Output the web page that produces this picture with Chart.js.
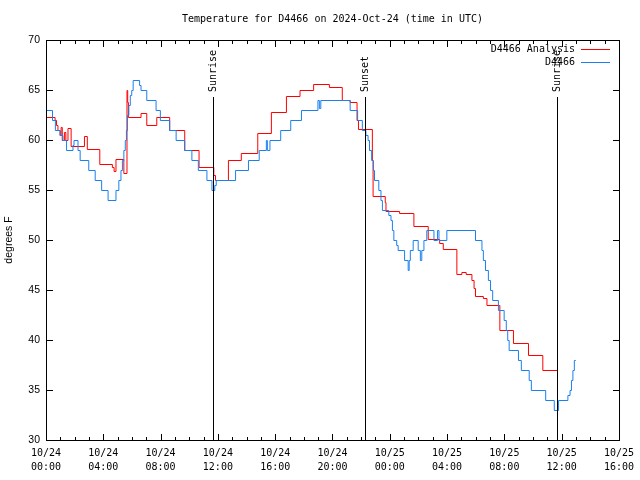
<!DOCTYPE html>
<html>
<head>
<meta charset="utf-8">
<script src="https://cdn.jsdelivr.net/npm/chart.js@4/dist/chart.umd.min.js"></script>
<style>
html,body{margin:0;padding:0;background:#fff;}
canvas{display:block;}
</style>
</head>
<body>
<canvas id="c" width="640" height="480"></canvas>
<script>
// ---- Data (hours since 2024-10-24 00:00 UTC, temperature in °F) ----
const chartTitle = "Temperature for D4466 on 2024-Oct-24 (time in UTC)";
const seriesNames = ["D4466 Analysis", "D4466"];
const xTickHours = [0, 4, 8, 12, 16, 20, 24, 28, 32, 36, 40];
const yTickValues = [30, 35, 40, 45, 50, 55, 60, 65, 70];
const sunEventNames = ["Sunrise", "Sunset", "Sunrise"];
const sunEventHours = [11.64, 22.3, 35.68];

const analysisHours = [0,0.6,0.7,0.8,0.95,1.02,1.1,1.25,1.35,1.5,1.72,2.65,2.85,3.72,4.6,4.72,4.85,5.4,5.62,5.67,5.72,6.6,7.0,7.7,8.6,9.65,10.65,11.68,11.8,12.7,13.6,14.75,15.7,16.75,17.7,18.65,19.75,20.65,21.2,21.68,21.78,22.75,22.8,23.65,23.7,24.65,25.65,26.65,27.45,27.7,28.65,29.0,29.3,29.7,29.85,29.95,30.5,30.75,31.65,32.6,33.65,34.65,35.68];
const analysisTemps = [62.3,62,61.5,61,60.5,61.3,60,60.8,60,61.2,59.4,60.4,59.1,57.6,57.3,56.9,58.1,56.7,65,63.8,62.3,62.7,61.5,62.3,61,59,57.3,56.5,56,58,58.7,60.7,62.8,64.4,65,65.6,65.3,64,63.8,62,61.1,58,54.4,53.8,52.9,52.7,51.4,50.1,49.7,49.1,46.6,46.8,46.6,46,45.2,44.4,44.2,43.5,41,39.7,38.5,37,37];

const obsHours = [0,0.42,0.62,0.95,1.15,1.4,1.85,1.92,2.2,2.35,2.95,3.4,3.85,4.3,4.85,5.05,5.2,5.3,5.4,5.5,5.58,5.65,5.75,5.85,5.95,6.05,6.5,6.6,7.0,7.65,7.95,8.6,9.05,9.65,10.15,10.6,11.2,11.55,11.75,11.85,13.2,14.1,14.85,15.35,15.42,15.6,16.35,17.05,17.8,18.95,19.05,19.15,21.2,21.72,22.05,22.3,22.45,22.55,22.7,22.82,22.9,23.2,23.35,23.45,23.9,24.05,24.15,24.25,24.45,24.55,25.0,25.25,25.32,25.4,25.6,25.95,26.1,26.2,26.35,26.55,27.05,27.3,27.4,27.95,29.95,30.4,30.5,30.65,30.85,31.0,31.15,31.55,31.95,32.1,32.2,32.3,32.95,33.15,33.7,33.85,34.85,35.45,35.75,36.4,36.55,36.65,36.75,36.85,36.95];
const obsTemps = [63,62,61,60.5,60,59,59.5,60,59,58,57,56,55,54,55,56,57,58,59,60,61,62.5,63.5,64.5,65,66,65.5,65,64,63,62,61,60,59,58,57,56,55,55.5,56,57,58,59,60,59,60,61,62,63,64,63.2,64,63,62,61,60.5,60,59,58,57,56,55,54,53,52.5,52,51,50,49.5,49,48,47,48,49,50,49,48,49,50,51,50,51,50,51,50,49,48,47,46,45,44,43,42,41,40,39,38,37,36,35,34,33,34,34.5,35,36,37,38,38];

const toPoints = (hs, ts) => hs.map((h, i) => ({x: h, y: ts[i]}));

const MONO = "'DejaVu Sans Mono', 'Liberation Mono', monospace";
const SANS = "'Liberation Sans', Arial, sans-serif";
const RED = '#ff0000';
const BLUE = '#1a80ee';

const overlay = {
  id: 'overlay',
  beforeDraw(chart) {
    const ctx = chart.ctx;
    ctx.save();
    ctx.fillStyle = '#fff';
    ctx.fillRect(0, 0, chart.width, chart.height);
    ctx.restore();
  },
  beforeDatasetsDraw(chart) {
    chart.ctx.save();
    chart.ctx.translate(0.5, 0.5);
  },
  afterDatasetsDraw(chart) {
    chart.ctx.restore();
  },
  afterDraw(chart) {
    const {ctx, chartArea: a, scales: {x, y}} = chart;
    const L = Math.round(a.left), R = Math.round(a.right);
    const T = Math.round(a.top), B = Math.round(a.bottom);
    ctx.save();
    ctx.fillStyle = '#000';
    // border box
    ctx.fillRect(L, T, R - L + 1, 1);
    ctx.fillRect(L, B, R - L + 1, 1);
    ctx.fillRect(L, T, 1, B - T + 1);
    ctx.fillRect(R, T, 1, B - T + 1);
    // x ticks: every hour, major every 4 hours (inward, mirrored)
    for (let h = 0; h <= 40; h++) {
      const px = Math.round(x.getPixelForValue(h));
      const len = (h % 4 === 0) ? 6 : 3;
      ctx.fillRect(px, B - len, 1, len);
      ctx.fillRect(px, T + 1, 1, len);
    }
    // y ticks
    yTickValues.forEach(v => {
      const py = Math.round(y.getPixelForValue(v));
      ctx.fillRect(L + 1, py, 6, 1);
      ctx.fillRect(R - 6, py, 6, 1);
    });

    // sunrise / sunset markers
    ctx.font = '10px ' + MONO;
    sunEventHours.forEach((h, i) => {
      const px = Math.round(x.getPixelForValue(h));
      ctx.fillRect(px, 97, 1, B - 97);
      ctx.save();
      ctx.translate(px + 0.5, 92);
      ctx.rotate(-Math.PI / 2);
      ctx.textAlign = 'left';
      ctx.textBaseline = 'middle';
      ctx.fillText(sunEventNames[i], 0, 0);
      ctx.restore();
    });

    // legend
    const colors = [RED, BLUE];
    const legY = [49, 62];
    ctx.font = '10px ' + MONO;
    ctx.textAlign = 'right';
    ctx.textBaseline = 'middle';
    seriesNames.forEach((n, i) => {
      ctx.fillStyle = '#000';
      ctx.fillText(n, 575, legY[i] + 0.5);
      ctx.fillStyle = colors[i];
      ctx.fillRect(581, legY[i], 29, 1);
    });

    // title
    ctx.fillStyle = '#000';
    ctx.textAlign = 'center';
    ctx.textBaseline = 'middle';
    ctx.fillText(chartTitle, (a.left + a.right) / 2, 19);
    ctx.restore();
  }
};

new Chart(document.getElementById('c'), {
  type: 'line',
  data: {
    datasets: [
      {
        label: seriesNames[0],
        data: toPoints(analysisHours, analysisTemps),
        borderColor: RED,
        borderWidth: 1,
        pointRadius: 0,
        stepped: true,
        fill: false,
        order: 1
      },
      {
        label: seriesNames[1],
        data: toPoints(obsHours, obsTemps),
        borderColor: BLUE,
        borderWidth: 1,
        pointRadius: 0,
        stepped: true,
        fill: false,
        order: 0
      }
    ]
  },
  options: {
    responsive: false,
    animation: false,
    devicePixelRatio: 1,
    events: [],
    layout: {padding: {left: 0, right: 20, top: 40, bottom: 0}},
    plugins: {
      legend: {display: false},
      title: {display: false},
      tooltip: {enabled: false}
    },
    scales: {
      x: {
        type: 'linear',
        min: 0, max: 40,
        afterFit: s => { s.height = 40; },
        afterBuildTicks: s => { s.ticks = xTickHours.map(v => ({value: v})); },
        grid: {display: false, drawTicks: false},
        border: {display: false},
        ticks: {
          autoSkip: false,
          maxRotation: 0,
          padding: 6,
          color: '#000',
          font: {family: MONO, size: 10, lineHeight: 1.4},
          callback: v => {
            const day = 24 + Math.floor(v / 24);
            const hr = v % 24;
            return ['10/' + day, String(hr).padStart(2, '0') + ':00'];
          }
        }
      },
      y: {
        type: 'linear',
        min: 30, max: 70,
        afterFit: s => { s.width = 46; },
        afterBuildTicks: s => { s.ticks = yTickValues.map(v => ({value: v})); },
        grid: {display: false, drawTicks: false},
        border: {display: false},
        title: {display: true, text: 'degrees F', color: '#000', font: {family: SANS, size: 10.5}, padding: {top: 3, bottom: 0}},
        ticks: {
          padding: 6,
          color: '#000',
          font: {family: SANS, size: 10.5}
        }
      }
    }
  },
  plugins: [overlay]
});
</script>
</body>
</html>
